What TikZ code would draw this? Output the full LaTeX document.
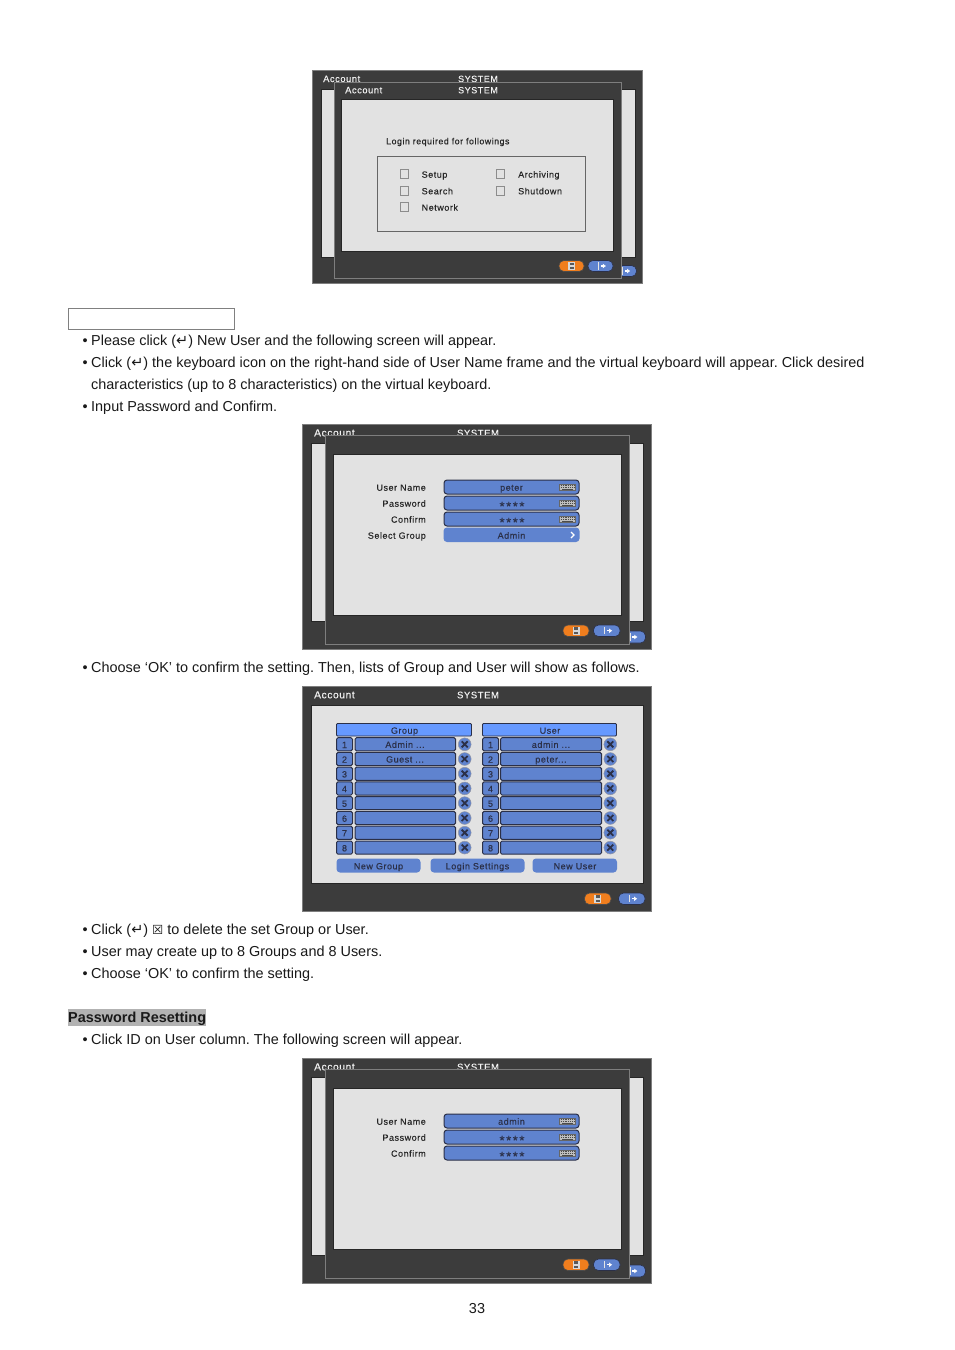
\documentclass[tikz,border=0pt]{standalone}
\usepackage{fontspec}
\usetikzlibrary{arrows.meta}
\setmainfont{Liberation Sans}
\newfontfamily\osd[LetterSpace=6,FakeBold=0.15]{Liberation Sans}
\newfontfamily\osdstar[LetterSpace=12,FakeBold=0.15]{Liberation Sans}
\newfontfamily\djf{DejaVu Sans}
\definecolor{panel}{HTML}{3C3C3C}
\definecolor{edgegray}{HTML}{7E7E7E}
\definecolor{lightp}{HTML}{E2E2E2}
\definecolor{bluef}{HTML}{5F83CF}
\definecolor{blueh}{HTML}{6699FF}
\definecolor{navy}{HTML}{2B3048}
\definecolor{orangeb}{HTML}{F07E1E}
\newcommand\retsym{{\djf\fontsize{14.5}{12}\selectfont ↵}}
\tikzset{
  x=1pt,y=-1pt,
  outerp/.style={fill=panel,draw=edgegray,line width=1pt},
  lightr/.style={fill=lightp,draw=black!85,line width=.8pt},
  field/.style={fill=bluef,draw=navy,line width=1pt,rounded corners=3pt},
  flat/.style={fill=bluef,draw=none,rounded corners=3.5pt},
  cellb/.style={fill=bluef,draw=navy,line width=1pt,rounded corners=1.5pt},
  head/.style={fill=blueh,draw=navy,line width=.8pt,rounded corners=1pt},
  body/.style={inner sep=0pt,anchor=base west,font=\frenchspacing\fontsize{14.43}{16}\selectfont,text=black!90},
  osdt/.style={inner sep=0pt,text height=7pt,text depth=1pt,font=\osd\fontsize{9}{10}\selectfont,text=black!85},
  osdw/.style={osdt,text=white!95!black},
  osds/.style={osdt,font=\osdstar\fontsize{13}{10}\selectfont},
  chk/.style={fill=lightp,draw=black!45,line width=.9pt},
}
% body line: name, baseline y, text
\newcommand\bul[3]{%
  \node[body] (#1b) at (82.5,#2) {•};
  \node[body] (#1) at (91,#2) {#3};}
% buttons: x1 y1 x2 y2
\newcommand\okb[4]{%
  \fill[orangeb,draw=black!70,line width=.6pt,rounded corners=5pt] (#1,#2) rectangle (#3,#4);
  \fill[black!15] ({(#1+#3)/2-3.5},{(#2+#4)/2-4}) rectangle ({(#1+#3)/2+3.5},{(#2+#4)/2+4});
  \fill[black!65] ({(#1+#3)/2-2},{(#2+#4)/2-3.4}) rectangle ({(#1+#3)/2+2},{(#2+#4)/2-.8});
  \fill[black!65] ({(#1+#3)/2-2},{(#2+#4)/2+.8}) rectangle ({(#1+#3)/2+2},{(#2+#4)/2+3.4});}
\newcommand\exb[4]{%
  \fill[bluef,draw=navy,line width=.6pt,rounded corners=5pt] (#1,#2) rectangle (#3,#4);
  \fill[white!90!black] ({(#1+#3)/2-3},{(#2+#4)/2-3.7}) rectangle ({(#1+#3)/2-1.5},{(#2+#4)/2+3.7});
  \draw[white,line width=1.2pt,-{Latex[length=3.2pt,width=5pt]}] ({(#1+#3)/2+.3},{(#2+#4)/2}) -- ({(#1+#3)/2+5.5},{(#2+#4)/2});}
% keyboard icon: center y
\newcommand\kbdicon[1]{%
  \fill[black!25,draw=black!60,line width=.5pt] (559.5,{#1-3.2}) rectangle (575.5,{#1+3.2});
  \draw[black!70,line width=.7pt,dash pattern=on 1pt off .8pt] (561,{#1-1.2}) -- (574,{#1-1.2}) (561,{#1+.6}) -- (574,{#1+.6});
  \draw[black!70,line width=.6pt] (562,{#1+2.2}) -- (573,{#1+2.2});}
% input row: name label value y1 y2
\newcommand\irow[5]{%
  \node[osdt,anchor=east] (#1l) at (426,{(#4+#5)/2+.7}) {#2};
  \draw[field] (444,#4) rectangle (579,#5);
  \kbdicon{(#4+#5)/2}
  \node[osdt,text=navy] (#1v) at (511.5,{(#4+#5)/2+.7}) {#3};}
\newcommand\irowstar[4]{%
  \node[osdt,anchor=east] (#1l) at (426,{(#3+#4)/2+.7}) {#2};
  \draw[field] (444,#3) rectangle (579,#4);
  \kbdicon{(#3+#4)/2}
  \node[osds,text=navy] (#1v) at (512,{(#3+#4)/2+4.8}) {****};}
% common back of screens 2 and 4
\newcommand\backscreen[1]{%
  \draw[outerp] (302.5,424) rectangle (651.5,649.5);
  \node[osdw,anchor=west] (#1acc) at (314,433.3) {\fontsize{10.2}{10}\selectfont Account};
  \node[osdw] (#1sys) at (478,433.3) {\fontsize{9.5}{10}\selectfont SYSTEM};
  \draw[lightr] (311,443) rectangle (643.5,621.5);
  \exb{618.5}{631}{645.5}{643}
  \draw[outerp] (325.5,435) rectangle (629,644);
  \draw[lightr] (333.7,454) rectangle (621,615.5);
  \okb{563}{625}{589}{636.5}
  \exb{593.5}{625}{620}{636.5}}
% group table row
\newcommand\xmark[2]{%
  \fill[bluef,draw=navy!50,line width=.5pt] (#1,#2) circle (6.4);
  \draw[navy,line width=1.8pt] ({#1-3},{#2-3}) -- ({#1+3},{#2+3}) ({#1-3},{#2+3}) -- ({#1+3},{#2-3});}
\newcommand\trow[5]{%
  % name, n, y, group text, user text
  \draw[cellb] (336.5,{#3-6.6}) rectangle (352.5,{#3+6.6});
  \node[osdt,text=navy] (#1gn) at (344.5,{#3+.7}) {#2};
  \draw[cellb] (355,{#3-6.6}) rectangle (455.5,{#3+6.6});
  \node[osdt,text=navy] (#1gv) at (405,{#3+.5}) {#4};
  \xmark{464.7}{#3}
  \draw[cellb] (482.5,{#3-6.6}) rectangle (498.5,{#3+6.6});
  \node[osdt,text=navy] (#1un) at (490.5,{#3+.7}) {#2};
  \draw[cellb] (500.5,{#3-6.6}) rectangle (601.5,{#3+6.6});
  \node[osdt,text=navy] (#1uv) at (551,{#3+.5}) {#5};
  \xmark{610.3}{#3}}
\begin{document}
\begin{tikzpicture}
\useasboundingbox[fill=white] (0,0) rectangle (954,1350);

% ---------- screen 1
\draw[outerp] (312.5,70.5) rectangle (642.5,283.5);
\node[osdw,anchor=west] (a1) at (323,79) {\fontsize{9.3}{10}\selectfont Account};
\node[osdw] (s1) at (478,79) {SYSTEM};
\draw[lightr] (321,89) rectangle (635,257);
\exb{613}{265.5}{636.5}{276.5}
\draw[outerp] (334,82) rectangle (621,278);
\node[osdw,anchor=west] (a2) at (345,90.3) {\fontsize{9.3}{10}\selectfont Account};
\node[osdw] (s2) at (478,90.3) {SYSTEM};
\draw[lightr] (341.7,99.5) rectangle (613.5,251.5);
\node[osdt,anchor=west] (login) at (386,141.3) {\fontsize{8.8}{10}\selectfont Login required for followings};
\draw[fill=lightp,draw=black!60,line width=.9pt] (377,156.5) rectangle (585,231.5);
\draw[chk] (400,169.5) rectangle (408.7,178.5);
\draw[chk] (400,186) rectangle (408.7,195);
\draw[chk] (400,202.5) rectangle (408.7,211.5);
\draw[chk] (496,169.5) rectangle (504.7,178.5);
\draw[chk] (496,186) rectangle (504.7,195);
\node[osdt,anchor=west] (c1) at (421.5,174.7) {Setup};
\node[osdt,anchor=west] (c2) at (421.5,191.3) {Search};
\node[osdt,anchor=west] (c3) at (421.5,207.7) {Network};
\node[osdt,anchor=west] (c4) at (518,174.7) {Archiving};
\node[osdt,anchor=west] (c5) at (518,191.3) {Shutdown};
\okb{559}{260.5}{584}{271.5}
\exb{588}{260.5}{613}{271.5}

% ---------- empty frame and text
\draw[fill=white,draw=black!50,line width=.8pt] (68.5,308.5) rectangle (234.5,329);
\bul{t1}{345}{Please click (\retsym) New User and the following screen will appear.}
\bul{t2}{367}{Click (\retsym) the keyboard icon on the right-hand side of User Name frame and the virtual keyboard will appear. Click desired}
\node[body] (t3) at (91,389) {characteristics (up to 8 characteristics) on the virtual keyboard.};
\bul{t4}{411}{Input Password and Confirm.}

% ---------- screen 2
\backscreen{x}
\irow{u}{User Name}{peter}{480}{494}
\irowstar{p}{Password}{496}{510}
\irowstar{f}{Confirm}{512}{526}
\node[osdt,anchor=east] (gl) at (426,535.7) {Select Group};
\draw[flat] (443.5,527.5) rectangle (579.5,542);
\node[osdt,text=navy] (gv) at (511.5,535.7) {Admin};
\draw[white,line width=1.2pt] (571,532) -- (574,535) -- (571,538);

\bul{t5}{672}{Choose ‘OK’ to confirm the setting. Then, lists of Group and User will show as follows.}

% ---------- screen 3
\draw[outerp] (302.5,686) rectangle (651.5,911);
\node[osdw,anchor=west] (a3) at (314,695.3) {\fontsize{10.2}{10}\selectfont Account};
\node[osdw] (s3) at (478,695.3) {\fontsize{9.5}{10}\selectfont SYSTEM};
\draw[lightr] (311,705) rectangle (643.5,883.5);
\draw[head] (336.5,723.5) rectangle (471.5,736);
\node[osdt,text=navy] (gh) at (404.5,730.7) {Group};
\draw[head] (482.5,723.5) rectangle (616.5,736);
\node[osdt,text=navy] (uh) at (550,730.7) {User};
\trow{r1}{1}{744.3}{Admin ...}{admin ...}
\trow{r2}{2}{759}{Guest ...}{peter...}
\trow{r3}{3}{773.7}{}{}
\trow{r4}{4}{788.4}{}{}
\trow{r5}{5}{803.1}{}{}
\trow{r6}{6}{818}{}{}
\trow{r7}{7}{832.7}{}{}
\trow{r8}{8}{847.6}{}{}
\draw[flat] (336.5,858.5) rectangle (420.5,872.5);
\node[osdt,text=navy] (ng) at (378.5,866.3) {New Group};
\draw[flat] (430.5,858.5) rectangle (524.5,872.5);
\node[osdt,text=navy] (ls) at (477.5,866.3) {Login Settings};
\draw[flat] (532.5,858.5) rectangle (617,872.5);
\node[osdt,text=navy] (nu) at (575,866.3) {New User};
\okb{584.5}{893}{611}{904.5}
\exb{618.5}{893}{645}{904.5}

\bul{t6}{934}{Click (\retsym) {\djf\fontsize{12.5}{12}\selectfont ☒} to delete the set Group or User.}
\bul{t7}{956}{User may create up to 8 Groups and 8 Users.}
\bul{t8}{978}{Choose ‘OK’ to confirm the setting.}

\fill[black!30] (68,1009) rectangle (206,1026);
\node[body,font=\fontsize{14.43}{16}\selectfont\bfseries] (pw) at (68,1022) {Password Resetting};
\bul{t9}{1044}{Click ID on User column. The following screen will appear.}

% ---------- screen 4
\begin{scope}[shift={(0,634)}]
\backscreen{y}
\irow{v}{User Name}{admin}{480}{494}
\irowstar{w}{Password}{496}{510}
\irowstar{z}{Confirm}{512}{526}
\end{scope}

\node[body,anchor=base] (pg) at (477,1313.5) {33};
\end{tikzpicture}
\end{document}
